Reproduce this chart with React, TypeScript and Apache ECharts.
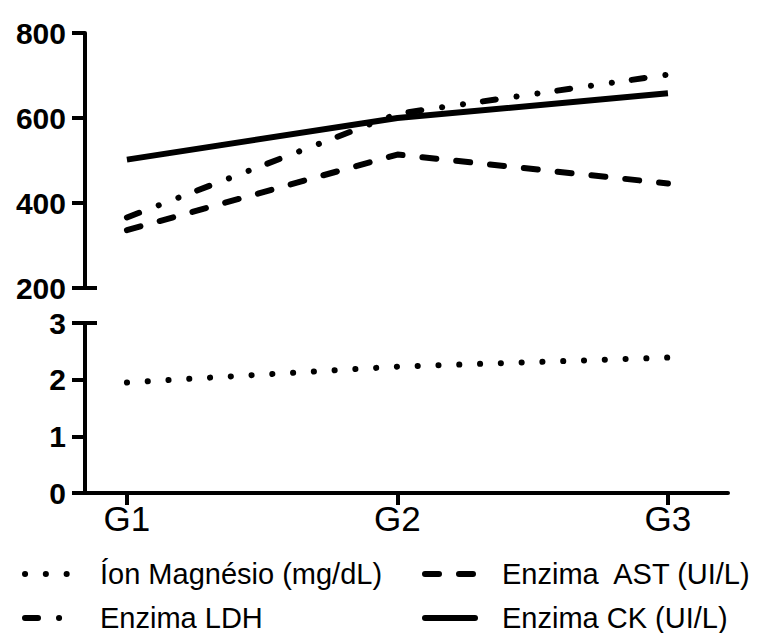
import React, { useEffect, useRef } from "react";
import * as echarts from "echarts";

const categories = ["G1", "G2", "G3"];
const magnesio = [1.95, 2.23, 2.39];
const ldh = [366, 610, 702];
const ast = [336, 514, 446];
const ck = [502, 600, 658];

const seriesNames = ["Íon Magnésio (mg/dL)", "Enzima LDH", "Enzima  AST (UI/L)", "Enzima CK (UI/L)"];

const X_MIN = -0.155;
const X_MAX = 2.222;
const FONT = "'Liberation Sans', Arial, sans-serif";

const toPoints = (vals: number[]) => categories.map((_, i) => [i, vals[i]]);

export default function App() {
  const ref = useRef<HTMLDivElement>(null);
  useEffect(() => {
    if (!ref.current) return;
    const chart = echarts.init(ref.current, null, { renderer: "svg" });
    const black = "#000";
    const axisLineStyle = { color: black, width: 4 };
    const tickIdx = categories.map((_, i) => i);
    const makeLegend = (name: string, left: number, top: number, itemWidth: number, pad: number) => ({
      left,
      top,
      orient: "horizontal",
      selectedMode: false,
      padding: 0,
      itemHeight: 14,
      itemWidth,
      itemStyle: { opacity: 0, color: "transparent", borderWidth: 0 },
      lineStyle: { width: 6, cap: "round" },
      data: [name],
      textStyle: { fontSize: 29, lineHeight: 30, fontFamily: FONT, color: black, padding: [0, 0, 0, pad] },
    });
    chart.setOption({
      animation: false,
      backgroundColor: "#fff",
      grid: [
        { left: 85, right: 32, top: 33, height: 255 },
        { left: 85, right: 32, top: 323, height: 170 },
      ],
      xAxis: [
        { gridIndex: 0, type: "value", min: X_MIN, max: X_MAX, show: false },
        {
          gridIndex: 1,
          type: "value",
          min: X_MIN,
          max: X_MAX,
          axisLine: { show: true, onZero: false, lineStyle: axisLineStyle },
          axisTick: { show: true, customValues: tickIdx, length: 12, lineStyle: axisLineStyle },
          axisLabel: {
            customValues: tickIdx,
            formatter: (v: number) => categories[Math.round(v)] ?? "",
            fontSize: 35,
            fontFamily: FONT,
            color: black,
            margin: 8,
          },
          splitLine: { show: false },
        },
        {
          gridIndex: 1,
          type: "value",
          min: X_MIN,
          max: X_MAX,
          axisLine: { show: false },
          axisTick: { show: true, inside: true, customValues: tickIdx, length: 10, lineStyle: axisLineStyle },
          axisLabel: { show: false },
          splitLine: { show: false },
        },
      ],
      yAxis: [
        {
          gridIndex: 0,
          type: "value",
          position: "left",
          min: 200,
          max: 800,
          interval: 200,
          axisLine: { show: true, onZero: false, lineStyle: axisLineStyle },
          axisTick: { show: true, length: 13, lineStyle: axisLineStyle },
          axisLabel: { fontSize: 30, fontWeight: "bold", fontFamily: FONT, color: black, margin: 19 },
          splitLine: { show: false },
        },
        {
          gridIndex: 0,
          type: "value",
          position: "left",
          min: 200,
          max: 800,
          axisLine: { show: false, onZero: false },
          axisTick: { show: true, inside: true, customValues: [200], length: 12, lineStyle: axisLineStyle },
          axisLabel: { show: false },
          splitLine: { show: false },
        },
        {
          gridIndex: 1,
          type: "value",
          position: "left",
          min: 0,
          max: 3,
          interval: 1,
          axisLine: { show: true, onZero: false, lineStyle: axisLineStyle },
          axisTick: { show: true, length: 13, lineStyle: axisLineStyle },
          axisLabel: { fontSize: 30, fontWeight: "bold", fontFamily: FONT, color: black, margin: 19 },
          splitLine: { show: false },
        },
        {
          gridIndex: 1,
          type: "value",
          position: "left",
          min: 0,
          max: 3,
          axisLine: { show: false, onZero: false },
          axisTick: { show: true, inside: true, customValues: [3], length: 12, lineStyle: axisLineStyle },
          axisLabel: { show: false },
          splitLine: { show: false },
        },
      ],
      legend: [
        makeLegend(seriesNames[0], 22, 559, 45, 25),
        makeLegend(seriesNames[1], 22, 603, 45, 25),
        makeLegend(seriesNames[2], 422, 559, 50, 22),
        makeLegend(seriesNames[3], 422, 603, 50, 22),
      ],
      series: [
        {
          type: "line",
          name: seriesNames[0],
          xAxisIndex: 1,
          yAxisIndex: 2,
          data: toPoints(magnesio),
          symbol: "none",
          itemStyle: { color: black },
          lineStyle: { color: black, width: 6, type: [0.1, 20.7], cap: "round" },
        },
        {
          type: "line",
          name: seriesNames[1],
          xAxisIndex: 0,
          yAxisIndex: 0,
          data: toPoints(ldh),
          symbol: "none",
          itemStyle: { color: black },
          lineStyle: { color: black, width: 6, type: [13, 21, 0.1, 21, 0.1, 20], cap: "round" },
        },
        {
          type: "line",
          name: seriesNames[2],
          xAxisIndex: 0,
          yAxisIndex: 0,
          data: toPoints(ast),
          symbol: "none",
          itemStyle: { color: black },
          lineStyle: { color: black, width: 6, type: [14, 20], cap: "round" },
        },
        {
          type: "line",
          name: seriesNames[3],
          xAxisIndex: 0,
          yAxisIndex: 0,
          data: toPoints(ck),
          symbol: "none",
          itemStyle: { color: black },
          lineStyle: { color: black, width: 6, type: "solid" },
        },
      ],
    });
    return () => chart.dispose();
  }, []);
  return (
    <div
      ref={ref}
      style={{ position: "fixed", left: 0, top: 0, width: 760, height: 633, background: "#fff" }}
    />
  );
}
